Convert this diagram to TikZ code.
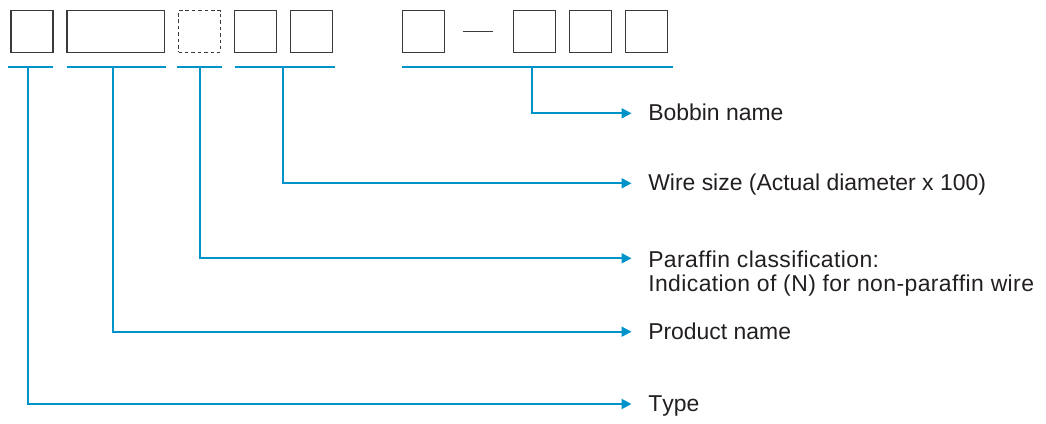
\documentclass[tikz,border=0pt]{standalone}
\usepackage{fontspec}
\setmainfont{Liberation Sans}[Ligatures=NoCommon,Kerning=Off]
\usetikzlibrary{arrows.meta}
\definecolor{leadblue}{HTML}{0093C9}
\definecolor{inkgray}{HTML}{231F20}
\definecolor{boxgray}{HTML}{3A3A3A}
\begin{document}
\begin{tikzpicture}[x=0.75pt,y=-0.75pt,
  digit/.style={draw=boxgray,line width=0.95pt,minimum width=31.5pt,minimum height=31.2pt,inner sep=0pt},
  widebox/.style={digit,minimum width=73.3pt},
  optbox/.style={digit,dashed,dash pattern=on 2.6pt off 2.2pt},
  bar/.style={draw=leadblue,line width=1.5pt},
  lead/.style={draw=leadblue,line width=1.5pt,-{Triangle[length=7.5pt,width=7.5pt]}},
  label/.style={anchor=base west,inner sep=0pt,text=inkgray,font=\fontsize{17.2}{20}\selectfont},
  widelabel/.style={label,font=\fontsize{17.2}{20}\selectfont\addfontfeature{LetterSpace=1.8}}]
  \useasboundingbox (0,0) rectangle (1046,424);

  % code field boxes
  \node[digit]   (type)  at (32,31.5)    {};
  \node[widebox] (prod)  at (115.8,31.5) {};
  \node[optbox]  (para)  at (199.5,31.5) {};
  \node[digit]   (sizeA) at (255.5,31.5) {};
  \node[digit]   (sizeB) at (311.3,31.5) {};
  \node[digit]   (bobA)  at (423.3,31.5) {};
  \node[digit]   (bobB)  at (534.8,31.5) {};
  \node[digit]   (bobC)  at (590.8,31.5) {};
  \node[digit]   (bobD)  at (646.5,31.5) {};

  % separator dash
  \coordinate (dashL) at (463.3,31.7);
  \coordinate (dashR) at (493.3,31.7);
  \draw[boxgray,line width=0.8pt] (dashL) -- (dashR);

  % bracket bars under the fields
  \coordinate (b1L) at (7.7,66.7);   \coordinate (b1R) at (52.7,66.7);
  \coordinate (b2L) at (66.7,66.7);  \coordinate (b2R) at (166.3,66.7);
  \coordinate (b3L) at (177,66.7);   \coordinate (b3R) at (222,66.7);
  \coordinate (b4L) at (235.3,66.7); \coordinate (b4R) at (335,66.7);
  \coordinate (b5L) at (402.3,66.7); \coordinate (b5R) at (672.7,66.7);
  \foreach \a/\b in {b1L/b1R,b2L/b2R,b3L/b3R,b4L/b4R,b5L/b5R}
    \draw[bar] (\a) -- (\b);

  % drop points on the bars
  \coordinate (t1) at (28,66.7);
  \coordinate (t2) at (112.7,66.7);
  \coordinate (t3) at (200.3,66.7);
  \coordinate (t4) at (283.3,66.7);
  \coordinate (t5) at (532,66.7);

  % arrow ends
  \coordinate (e5) at (631.5,113.3);
  \coordinate (e4) at (631.5,183.3);
  \coordinate (e3) at (631.5,258.3);
  \coordinate (e2) at (631.5,331.7);
  \coordinate (e1) at (631.5,404);

  % labels
  \node[label]     (lbob)  at (648,120.8) {Bobbin name};
  \node[label]     (lwire) at (648,190.8) {Wire size (Actual diameter x 100)};
  \node[widelabel] (lpar)  at (648,267.3) {Paraffin classification:};
  \node[widelabel] (lpar2) at (648,291.7) {Indication of (N) for non-paraffin wire};
  \node[label]     (lprod) at (648,339.2) {Product name};
  \node[label]     (ltype) at (648,411.5) {Type};

  % leader lines
  \draw[lead] (t5) |- (e5);
  \draw[lead] (t4) |- (e4);
  \draw[lead] (t3) |- (e3);
  \draw[lead] (t2) |- (e2);
  \draw[lead] (t1) |- (e1);
\end{tikzpicture}
\end{document}
